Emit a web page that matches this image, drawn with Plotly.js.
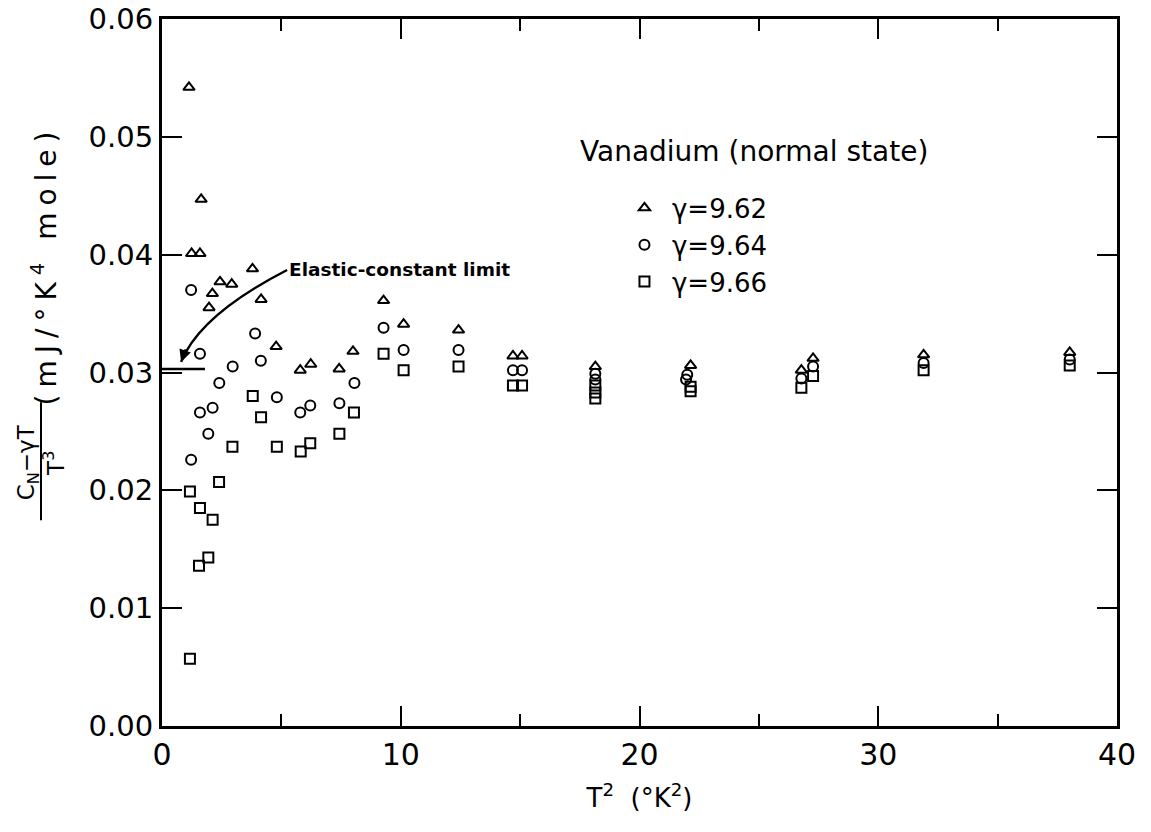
<!DOCTYPE html>
<html>
<head>
<meta charset="utf-8">
<script src="https://cdn.plot.ly/plotly-3.0.1.min.js"></script>
<style>
html,body{margin:0;padding:0;background:#fff;}
#chart{width:1151px;height:832px;}
#chart .annotation[data-index="4"] text{letter-spacing:7px;}
</style>
</head>
<body>
<div id="chart"></div>
<script>
// gamma = 9.62 (triangles)
const triX = [1.13,1.64,1.24,1.59,1.97,2.11,2.43,2.92,3.79,4.15,4.78,5.79,6.23,7.42,8.0,9.28,10.12,12.42,14.7,15.08,18.15,22.14,26.78,27.27,31.9,38.02];
const triY = [0.0542,0.0447,0.0401,0.0401,0.0355,0.0367,0.0377,0.0375,0.0388,0.0362,0.0322,0.0302,0.0307,0.0303,0.0318,0.0361,0.0341,0.0336,0.0314,0.0314,0.0305,0.0306,0.0302,0.0312,0.0315,0.0317];
// gamma = 9.64 (circles)
const cirX = [1.22,1.22,1.59,1.59,1.94,2.12,2.40,2.96,3.9,4.14,4.81,5.79,6.21,7.43,8.06,9.28,10.12,12.42,14.7,15.08,18.15,18.15,22.0,21.95,26.78,27.27,31.9,38.02];
const cirY = [0.0370,0.0226,0.0316,0.0266,0.0248,0.0270,0.0291,0.0305,0.0333,0.0310,0.0279,0.0266,0.0272,0.0274,0.0291,0.0338,0.0319,0.0319,0.0302,0.0302,0.0299,0.0294,0.0298,0.0294,0.0295,0.0305,0.0308,0.0311];
// gamma = 9.66 (squares)
const sqX = [1.17,1.55,1.94,1.17,1.59,2.12,2.39,2.95,3.8,4.15,4.81,5.81,6.21,7.43,8.04,9.28,10.12,12.42,14.7,15.08,18.15,18.15,18.15,22.14,22.14,26.78,27.27,31.9,38.02];
const sqY = [0.0057,0.0136,0.0143,0.0199,0.0185,0.0175,0.0207,0.0237,0.0280,0.0262,0.0237,0.0233,0.0240,0.0248,0.0266,0.0316,0.0302,0.0305,0.0289,0.0289,0.0289,0.0283,0.0278,0.0288,0.0284,0.0287,0.0297,0.0302,0.0306];

const seriesNames = ["γ=9.62","γ=9.64","γ=9.66"];
const xTickVals = [0,10,20,30,40];
const yTickVals = [0,0.01,0.02,0.03,0.04,0.05,0.06];

// elastic-constant limit annotation
const elasticLimit = 0.0303;
const elasticLineX = [0, 1.8];
const curveStart = [5.24, 0.0387];
const curveCtrl = [1.59, 0.0349];
const curveEnd = [0.80, 0.0309];

const FONT = "DejaVu Sans, Arial, sans-serif";
const mk = (sym) => ({symbol: sym, size: 10, color: "#000", line: {color: "#000", width: 2}});

const traces = [
  {x: triX, y: triY, name: seriesNames[0], type: "scatter", mode: "markers", marker: mk("triangle-up-open")},
  {x: cirX, y: cirY, name: seriesNames[1], type: "scatter", mode: "markers", marker: mk("circle-open")},
  {x: sqX, y: sqY, name: seriesNames[2], type: "scatter", mode: "markers", marker: mk("square-open")},
  {x: elasticLineX, y: [elasticLimit, elasticLimit], type: "scatter", mode: "lines", line: {color: "#000", width: 2.5}, showlegend: false, hoverinfo: "skip"}
];

const layout = {
  width: 1151, height: 832,
  paper_bgcolor: "#fff", plot_bgcolor: "#fff",
  margin: {l: 162, r: 34, t: 19, b: 106},
  font: {family: FONT, color: "#000"},
  showlegend: true,
  legend: {x: 0.4764, y: 0.766, xanchor: "left", yanchor: "top", bgcolor: "rgba(0,0,0,0)", font: {size: 26, family: FONT}, tracegroupgap: 0, itemwidth: 45},
  xaxis: {
    range: [0, 40], tickvals: xTickVals, ticks: "inside", ticklen: 20, tickwidth: 2, tickcolor: "#000",
    minor: {dtick: 5, ticks: "inside", ticklen: 12, tickwidth: 2, tickcolor: "#000"},
    showline: true, linewidth: 3, linecolor: "#000", mirror: "ticks", showgrid: false, zeroline: false,
    tickfont: {size: 30, family: FONT},
    title: {text: "T<sup>2</sup>  (°K<sup>2</sup>)", font: {size: 26, family: FONT}, standoff: 18}
  },
  yaxis: {
    range: [0, 0.06], tickvals: yTickVals, tickformat: ".2f", ticks: "inside", ticklen: 20, tickwidth: 2, tickcolor: "#000",
    showline: true, linewidth: 3, linecolor: "#000", mirror: "ticks", showgrid: false, zeroline: false,
    tickfont: {size: 29, family: FONT}
  },
  shapes: [
    {type: "path", xref: "x", yref: "y",
     path: `M ${curveStart[0]},${curveStart[1]} Q ${curveCtrl[0]},${curveCtrl[1]} ${curveEnd[0]},${curveEnd[1]}`,
     line: {color: "#000", width: 2.5}},
    {type: "line", xref: "paper", yref: "paper", x0: -0.1267, x1: -0.1267, y0: 0.291, y1: 0.458, line: {color: "#000", width: 2}}
  ],
  annotations: [
    {x: 0.62, y: 0.812, xref: "paper", yref: "paper", xanchor: "center", yanchor: "middle", text: "Vanadium (normal state)", showarrow: false, font: {size: 28, family: FONT}},
    {x: curveStart[0], y: curveStart[1], xref: "x", yref: "y", xanchor: "left", yanchor: "middle", text: "<b>Elastic-constant limit</b>", showarrow: false, font: {size: 18.5, family: FONT}},
    {x: curveEnd[0], y: curveEnd[1], xref: "x", yref: "y", ax: 5, ay: -14, text: "", showarrow: true, arrowhead: 2, arrowsize: 1.2, arrowwidth: 2, arrowcolor: "#000"},
    {x: -0.1267, y: 0.373, xref: "paper", yref: "paper", xanchor: "center", yanchor: "middle", align: "center", text: "C<sub>N</sub>−γT<br>T<sup>3</sup>", textangle: -90, showarrow: false, font: {size: 23, family: FONT}},
    {x: -0.1236, y: 0.652, xref: "paper", yref: "paper", xanchor: "center", yanchor: "middle", text: "(mJ/°K<sup>4</sup> mole)", textangle: -90, showarrow: false, font: {size: 28, family: FONT}}
  ]
};

Plotly.newPlot("chart", traces, layout, {displayModeBar: false, staticPlot: true});
</script>
</body>
</html>
